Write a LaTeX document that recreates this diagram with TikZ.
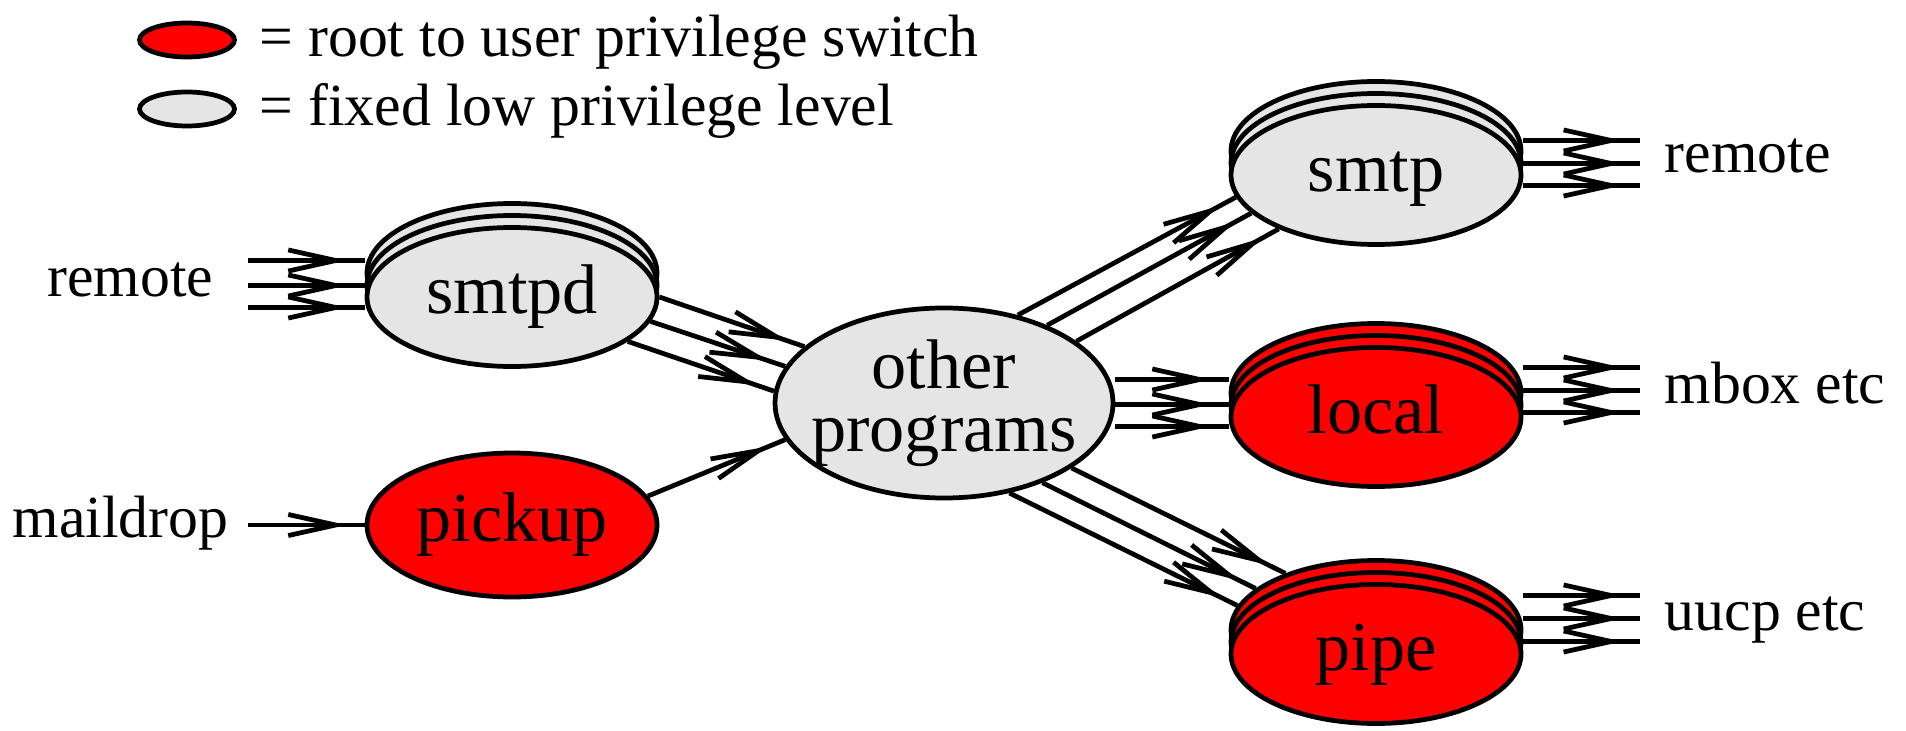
\documentclass[tikz,border=0pt]{standalone}
\usepackage{fontspec}
\setmainfont{Liberation Serif}
\usetikzlibrary{shapes.geometric,arrows.meta,decorations.markings,backgrounds}

\definecolor{lowgrey}{gray}{0.9}

\tikzset{
  proc/.style={ellipse, draw, line width=1.35pt, inner sep=0pt,
    minimum width=2.9cm, minimum height=1.39cm,
    font=\fontsize{20}{24}\selectfont, text height=13.6pt, text depth=4.4pt},
  rootproc/.style={proc, fill=red},
  lowproc/.style={proc, fill=lowgrey},
  keyproc/.style={minimum width=0.95cm, minimum height=0.34cm,
    text height=0pt, text depth=0pt},
  lbl/.style={inner sep=0pt, font=\fontsize{17}{20}\selectfont},
  flow/.style={line width=1.35pt,
    decoration={markings,
      mark=at position -0.18cm with {\arrow{Straight Barb[length=13.5pt,width=6pt]}}},
    postaction={decorate}},
}

\begin{document}
\begin{tikzpicture}
  \useasboundingbox (0,0) rectangle (19.06,7.30);

  % key
  \node[rootproc, keyproc] (keyroot) at (1.87,6.90) {};
  \node[lowproc, keyproc] (keylow) at (1.87,6.21) {};
  \node[lbl, anchor=base west] (keyroottxt) at (2.59,6.73) {= root to user privilege switch};
  \node[lbl, anchor=base west] (keylowtxt) at (2.59,6.04) {= fixed low privilege level};

  % daemons, the stacked ones drawn back to front
  \foreach \n/\x/\y/\s in {smtpd/5.12/4.33/lowproc, smtp/13.76/5.55/lowproc,
                           local/13.76/3.13/rootproc, pipe/13.76/0.76/rootproc} {
    \node[\s] (\n3) at (\x,\y+0.24) {};
    \node[\s] (\n2) at (\x,\y+0.12) {};
    \node[\s] (\n) at (\x,\y) {\n};
  }
  \node[rootproc, minimum height=1.44cm] (pickup) at (5.12,2.05) {pickup};
  \node[lowproc, minimum width=3.38cm, minimum height=1.90cm] (other) at (9.44,3.27) {};
  \node[font=\fontsize{20}{18}\selectfont, align=center] (othertxt) at (other) {other\\programs};

  % where mail comes from and goes to
  \node[lbl, anchor=base east] (remotein) at (2.14,4.33) {remote};
  \node[lbl, anchor=base east] (maildrop) at (2.29,1.93) {maildrop};
  \node[lbl, anchor=base west] (remoteout) at (16.64,5.57) {remote};
  \node[lbl, anchor=base west] (mbox) at (16.64,3.27) {mbox etc};
  \node[lbl, anchor=base west] (uucp) at (16.64,1.00) {uucp etc};
  \coordinate (inx) at (2.48,0);
  \coordinate (outx) at (16.40,0);

  \begin{scope}[on background layer]
    % incoming
    \foreach \dy [count=\k] in {0.365,0.115,-0.105} {
      \coordinate (smtpdin\k) at ([yshift=\dy cm]smtpd.west);
      \draw[flow] (smtpdin\k -| inx) -- (smtpdin\k);
    }
    \draw[flow] (pickup.west -| inx) -- (pickup.west);

    % into other programs
    \draw[flow] (smtpd.0) -- (other.158);
    \draw[flow] (smtpd.-10) -- (other.167);
    \draw[flow] (smtpd.-21) -- (other.176);
    \draw[flow] (pickup.12) -- (other.193);

    % out to the delivery agents
    \draw[flow] (other.50) -- (smtp.189);
    \draw[flow] (other.37) -- (smtp.197);
    \draw[flow] (other.25) -- (smtp.209);
    \foreach \dy [count=\k] in {0.375,0.125,-0.095} {
      \coordinate (localin\k) at ([yshift=\dy cm]local.west);
      \draw[flow] (localin\k -| other.east) -- (localin\k);
    }
    \draw[flow] (other.-27) -- (pipe3.148);
    \draw[flow] (other.-39) -- (pipe3.161);
    \draw[flow] (other.-54) -- (pipe3.170);

    % delivered
    \foreach \n/\ya/\yb/\yc in {smtp/0.345/0.115/-0.105, local/0.495/0.265/0.045,
                                pipe/0.585/0.355/0.125}
      \foreach \dy [count=\k] in {\ya,\yb,\yc} {
        \coordinate (\n out\k) at ([yshift=\dy cm]\n.east);
        \draw[flow] (\n out\k) -- (\n out\k -| outx);
      }
  \end{scope}
\end{tikzpicture}
\end{document}
